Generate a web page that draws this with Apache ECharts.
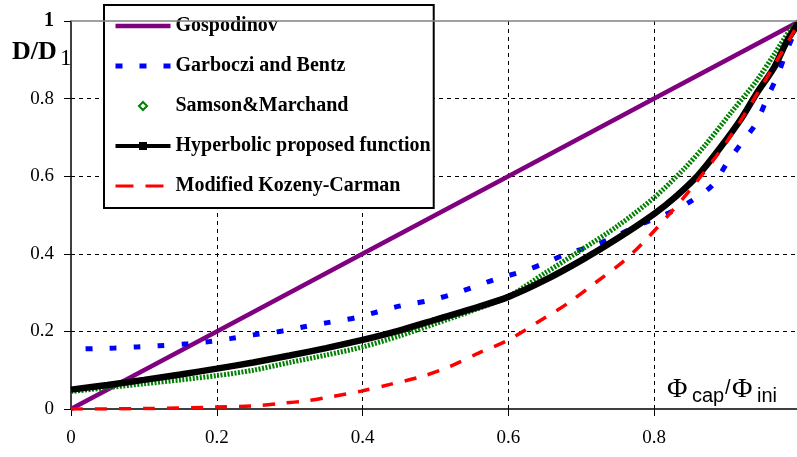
<!DOCTYPE html>
<html>
<head>
<meta charset="utf-8">
<script src="https://cdn.jsdelivr.net/npm/echarts@6/dist/echarts.min.js"></script>
<style>
  html, body { margin: 0; padding: 0; background: #fff; }
  #chart { width: 797px; height: 457px; }
</style>
</head>
<body>
<div id="chart"></div>
<script>
// Series names (legend order)
const seriesNames = [
  'Gospodinov',
  'Garboczi and Bentz',
  'Samson&Marchand',
  'Hyperbolic proposed function',
  'Modified Kozeny-Carman'
];

// Axis ticks
const xTicks = [0, 0.2, 0.4, 0.6, 0.8, 1];
const yTicks = [0, 0.2, 0.4, 0.6, 0.8, 1];

// Gospodinov: D/D1 vs Φcap/Φini
const gospX = [0, 0.2, 0.4, 0.6, 0.8, 1];
const gospY = [0, 0.2, 0.4, 0.6, 0.8, 1];

// Garboczi and Bentz
const garbX = [0.02, 0.06, 0.09, 0.12, 0.16, 0.19, 0.22, 0.25, 0.29, 0.32, 0.35, 0.39, 0.42, 0.45, 0.49, 0.52, 0.55, 0.58, 0.62, 0.65, 0.68, 0.72, 0.75, 0.78, 0.82, 0.85, 0.88, 0.90, 0.92, 0.94, 0.955, 0.97, 0.982, 1.0];
const garbY = [0.155, 0.157, 0.160, 0.163, 0.168, 0.174, 0.182, 0.191, 0.201, 0.212, 0.222, 0.235, 0.250, 0.265, 0.279, 0.294, 0.313, 0.333, 0.355, 0.376, 0.400, 0.423, 0.448, 0.475, 0.505, 0.535, 0.577, 0.634, 0.686, 0.737, 0.802, 0.863, 0.925, 1.0];

// Samson & Marchand
const samsX = [0, 0.05, 0.1, 0.15, 0.2, 0.25, 0.3, 0.35, 0.4, 0.45, 0.5, 0.55, 0.6, 0.65, 0.7, 0.75, 0.8, 0.84, 0.87, 0.905, 0.94, 0.965, 0.986, 1];
const samsY = [0.045, 0.055, 0.065, 0.075, 0.086, 0.100, 0.120, 0.139, 0.160, 0.188, 0.220, 0.253, 0.290, 0.350, 0.410, 0.472, 0.545, 0.617, 0.680, 0.763, 0.845, 0.915, 0.975, 1.0];

// Hyperbolic proposed function
const hypX = [0, 0.05, 0.1, 0.15, 0.2, 0.25, 0.3, 0.35, 0.4, 0.45, 0.5, 0.55, 0.6, 0.65, 0.7, 0.75, 0.8, 0.83, 0.86, 0.89, 0.92, 0.94, 0.965, 0.983, 1];
const hypY = [0.050, 0.062, 0.075, 0.089, 0.104, 0.120, 0.138, 0.157, 0.178, 0.202, 0.230, 0.258, 0.289, 0.332, 0.383, 0.440, 0.503, 0.548, 0.602, 0.672, 0.750, 0.812, 0.882, 0.951, 1.0];

// Modified Kozeny-Carman
const kozX = [0, 0.1, 0.2, 0.25, 0.29, 0.323, 0.358, 0.398, 0.439, 0.48, 0.518, 0.559, 0.6, 0.65, 0.682, 0.719, 0.76, 0.792, 0.822, 0.849, 0.9, 0.95, 1];
const kozY = [0, 0.001, 0.005, 0.008, 0.015, 0.021, 0.032, 0.046, 0.064, 0.083, 0.108, 0.144, 0.178, 0.235, 0.273, 0.325, 0.384, 0.443, 0.505, 0.564, 0.690, 0.840, 1.0];

const zip = (xs, ys) => xs.map((x, i) => [x, ys[i]]);
const fmt = v => String(Math.round(v * 10) / 10);

const serif = 'Liberation Serif, Times New Roman, serif';
const sans = 'Liberation Sans, Arial, sans-serif';

const chart = echarts.init(document.getElementById('chart'));

chart.setOption({
  backgroundColor: '#fff',
  animation: false,
  grid: { left: 71, width: 729, top: 21, height: 388, containLabel: false, outerBoundsMode: 'none' },
  xAxis: {
    type: 'value', min: xTicks[0], max: xTicks[xTicks.length - 1], interval: 0.2,
    axisLine: { show: true, onZero: false, lineStyle: { color: '#000', width: 1.5 } },
    axisTick: { show: true, length: 7, lineStyle: { color: '#000', width: 1 } },
    splitLine: { show: true, showMinLine: false, lineStyle: { color: '#000', type: [4, 4], width: 1 } },
    axisLabel: { margin: 20, fontFamily: serif, fontSize: 19, color: '#000', formatter: fmt }
  },
  yAxis: {
    type: 'value', min: yTicks[0], max: yTicks[yTicks.length - 1], interval: 0.2,
    axisLine: { show: true, lineStyle: { color: '#000', width: 1.5 } },
    axisTick: { show: true, length: 7, lineStyle: { color: '#000', width: 1 } },
    splitLine: { show: true, showMinLine: false, showMaxLine: false, lineStyle: { color: '#000', type: [4, 4], width: 1 } },
    axisLabel: {
      margin: 17, fontFamily: serif, fontSize: 19, color: '#000',
      formatter: v => (v === 1 ? '{b|1}' : fmt(v)),
      rich: { b: { fontFamily: serif, fontSize: 20, fontWeight: 'bold', color: '#000' } }
    }
  },
  legend: {
    orient: 'vertical', left: 104, top: 5,
    itemWidth: 55, itemHeight: 10, itemGap: 20,
    padding: [11, 3, 12, 9],
    borderColor: '#000', borderWidth: 2, backgroundColor: '#fff',
    textStyle: { fontFamily: serif, fontWeight: 'bold', fontSize: 20, color: '#000' },
    data: [
      { name: seriesNames[0], itemStyle: { opacity: 0 }, lineStyle: { width: 4.5 } },
      { name: seriesNames[1], itemStyle: { opacity: 0 }, lineStyle: { width: 5 } },
      { name: seriesNames[2], lineStyle: { opacity: 0 } },
      { name: seriesNames[3], lineStyle: { width: 4 } },
      { name: seriesNames[4], itemStyle: { opacity: 0 }, lineStyle: { type: [18, 12], width: 3 } }
    ]
  },
  series: [
    {
      name: seriesNames[0], type: 'line', data: zip(gospX, gospY),
      symbol: 'none', lineStyle: { color: '#800080', width: 4.5 }, itemStyle: { color: '#800080' },
      markLine: {
        silent: true, symbol: 'none', label: { show: false },
        lineStyle: { color: '#808080', type: 'solid', width: 1.5 },
        data: [{ yAxis: yTicks[yTicks.length - 1] }]
      }
    },
    {
      name: seriesNames[1], type: 'line', data: zip(garbX, garbY),
      symbol: 'none', smooth: 0.3,
      lineStyle: { color: '#0000ff', width: 5, type: [7, 17] }, itemStyle: { color: '#0000ff' }
    },
    {
      name: seriesNames[2], type: 'line', data: zip(samsX, samsY),
      symbol: 'emptyDiamond', symbolSize: 7, showSymbol: false, smooth: 0.3,
      lineStyle: { color: '#008000', width: 5, type: [2, 1.5] },
      itemStyle: { color: '#008000', borderColor: '#008000' }
    },
    {
      name: seriesNames[3], type: 'line', data: zip(hypX, hypY),
      symbol: 'rect', symbolSize: 8, showSymbol: false, smooth: 0.3,
      lineStyle: { color: '#000', width: 6.5 }, itemStyle: { color: '#000' }
    },
    {
      name: seriesNames[4], type: 'line', data: zip(kozX, kozY),
      symbol: 'none', smooth: 0.3,
      lineStyle: { color: '#ff0000', width: 3.5, type: [12, 12] }, itemStyle: { color: '#ff0000' }
    }
  ],
  graphic: [
    { type: 'text', left: 12, top: 39, style: { text: 'D/D', font: 'bold 26px ' + serif, fill: '#000' } },
    { type: 'text', left: 60, top: 47, style: { text: '1', font: '23px ' + serif, fill: '#000' } },
    { type: 'text', left: 667, top: 376, style: { text: 'Φ', font: '28px ' + serif, fill: '#000' } },
    { type: 'text', left: 692, top: 386, style: { text: 'cap', font: '20px ' + sans, fill: '#000' } },
    { type: 'text', left: 725, top: 378, style: { text: '/', font: '20px ' + sans, fill: '#000' } },
    { type: 'text', left: 732, top: 376, style: { text: 'Φ', font: '28px ' + serif, fill: '#000' } },
    { type: 'text', left: 757, top: 386, style: { text: 'ini', font: '20px ' + sans, fill: '#000' } }
  ]
});
</script>
</body>
</html>
